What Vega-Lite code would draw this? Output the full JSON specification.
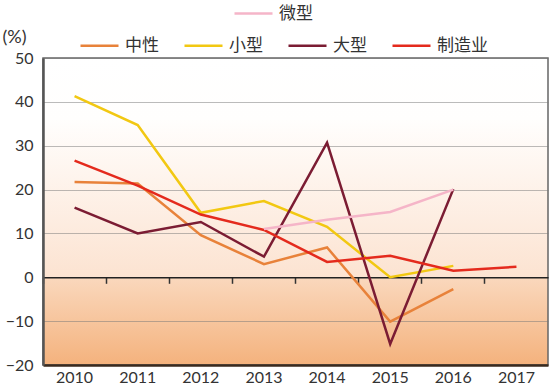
{
  "$schema": "https://vega.github.io/schema/vega-lite/v6.json",
  "width": 505,
  "height": 307,
  "autosize": {"type": "none"},
  "padding": {"left": 43, "top": 58, "right": 2, "bottom": 19},
  "config": {
    "font": "Lato",
    "view": {
      "stroke": "#666666",
      "strokeWidth": 1.5,
      "fill": {
        "gradient": "linear", "x1": 0, "y1": 0, "x2": 0, "y2": 1,
        "stops": [
          {"offset": 0, "color": "#ffffff"},
          {"offset": 0.2, "color": "#fffefd"},
          {"offset": 0.714, "color": "#fce3d1"},
          {"offset": 0.714, "color": "#fad8bd"},
          {"offset": 1, "color": "#f4b27d"}
        ]
      }
    }
  },
  "datasets": {
    "main": [
      {"year": "2010", "series": "中性", "value": 21.7},
      {"year": "2011", "series": "中性", "value": 21.4},
      {"year": "2012", "series": "中性", "value": 9.6},
      {"year": "2013", "series": "中性", "value": 3.0},
      {"year": "2014", "series": "中性", "value": 6.8},
      {"year": "2015", "series": "中性", "value": -10.1},
      {"year": "2016", "series": "中性", "value": -2.7},
      {"year": "2010", "series": "小型", "value": 41.3},
      {"year": "2011", "series": "小型", "value": 34.7},
      {"year": "2012", "series": "小型", "value": 14.7},
      {"year": "2013", "series": "小型", "value": 17.4},
      {"year": "2014", "series": "小型", "value": 11.5},
      {"year": "2015", "series": "小型", "value": 0.0},
      {"year": "2016", "series": "小型", "value": 2.6},
      {"year": "2010", "series": "大型", "value": 15.9},
      {"year": "2011", "series": "大型", "value": 10.0},
      {"year": "2012", "series": "大型", "value": 12.6},
      {"year": "2013", "series": "大型", "value": 4.7},
      {"year": "2014", "series": "大型", "value": 30.7},
      {"year": "2015", "series": "大型", "value": -15.2},
      {"year": "2016", "series": "大型", "value": 20.1},
      {"year": "2010", "series": "制造业", "value": 26.6},
      {"year": "2011", "series": "制造业", "value": 20.9},
      {"year": "2012", "series": "制造业", "value": 14.3},
      {"year": "2013", "series": "制造业", "value": 10.8},
      {"year": "2014", "series": "制造业", "value": 3.5},
      {"year": "2015", "series": "制造业", "value": 4.9},
      {"year": "2016", "series": "制造业", "value": 1.5},
      {"year": "2017", "series": "制造业", "value": 2.4}
    ],
    "micro": [
      {"year": "2013", "series": "微型", "value": 11.0},
      {"year": "2014", "series": "微型", "value": 13.1},
      {"year": "2015", "series": "微型", "value": 14.9},
      {"year": "2016", "series": "微型", "value": 20.0}
    ]
  },
  "layer": [
    {
      "data": {"name": "main"},
      "mark": {"type": "line", "strokeWidth": 2.5},
      "encoding": {
        "x": {
          "field": "year", "type": "ordinal", "bandPosition": 0.5,
          "scale": {"type": "band", "paddingInner": 0, "paddingOuter": 0, "domain": ["2010","2011","2012","2013","2014","2015","2016","2017"]},
          "axis": {
            "title": null, "orient": "bottom", "labelAngle": 0, "ticks": false,
            "domain": true, "domainColor": "#3a2a1e", "domainWidth": 2.5,
            "labelFontSize": 16, "labelColor": "#333333", "labelPadding": 4, "grid": false
          }
        },
        "y": {
          "field": "value", "type": "quantitative",
          "scale": {"domain": [-20, 50], "nice": false, "zero": false},
          "axis": {
            "title": "(%)", "titleAngle": 0, "titleAlign": "left", "titleBaseline": "alphabetic",
            "titleX": -41, "titleY": -16, "titleFontSize": 18, "titleFontWeight": "normal", "titleColor": "#333333",
            "values": [-20, -10, 0, 10, 20, 30, 40, 50],
            "grid": true, "gridColor": "#777777", "gridOpacity": 0.5, "gridWidth": 1,
            "ticks": false, "domainColor": "#555555", "domainWidth": 2.5,
            "labelFontSize": 16, "labelColor": "#333333", "labelPadding": 10,
            "labelExpr": "datum.value < 0 ? '−' + abs(datum.value) : datum.label"
          }
        },
        "color": {
          "field": "series", "type": "nominal",
          "scale": {"domain": ["中性", "小型", "大型", "制造业"], "range": ["#e8823a", "#f2c812", "#7b1c33", "#e42a1d"]},
          "legend": {
            "title": null, "orient": "none", "legendX": 36, "legendY": -33,
            "direction": "horizontal", "columns": 4, "symbolType": "stroke",
            "symbolSize": 1444, "symbolStrokeWidth": 2.5, "labelFontSize": 17,
            "labelFont": "Noto Sans CJK SC", "labelColor": "#333333",
            "columnPadding": 20, "labelOffset": 5
          }
        }
      }
    },
    {
      "data": {"name": "micro"},
      "mark": {"type": "line", "strokeWidth": 2.5},
      "encoding": {
        "x": {
          "field": "year", "type": "ordinal", "bandPosition": 0.5,
          "scale": {"type": "band", "paddingInner": 0, "paddingOuter": 0, "domain": ["2010","2011","2012","2013","2014","2015","2016","2017"]},
          "axis": {
            "title": null, "orient": "bottom", "offset": -87.7, "labels": false,
            "ticks": true, "bandPosition": 0, "tickSize": 6, "tickWidth": 1.5, "tickColor": "#333333",
            "domain": true, "domainColor": "#222222", "domainWidth": 1.5, "grid": false
          }
        },
        "y": {"field": "value", "type": "quantitative"},
        "stroke": {
          "field": "series", "type": "nominal",
          "scale": {"domain": ["微型"], "range": ["#f5b5c8"]},
          "legend": {
            "title": null, "orient": "none", "legendX": 190, "legendY": -65,
            "symbolType": "stroke", "symbolSize": 1444, "symbolStrokeWidth": 2.5,
            "labelFontSize": 17, "labelFont": "Noto Sans CJK SC", "labelColor": "#333333", "labelOffset": 5
          }
        }
      }
    }
  ],
  "resolve": {"axis": {"x": "independent"}}
}
